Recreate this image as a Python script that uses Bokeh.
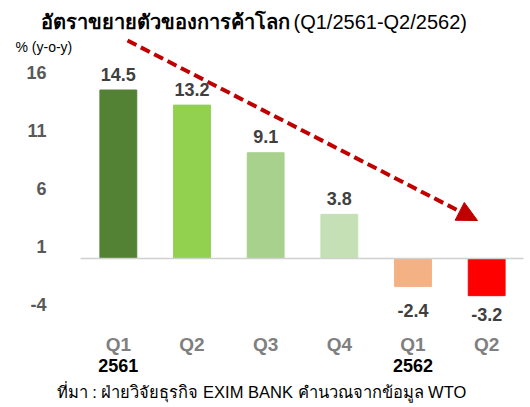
from bokeh.plotting import figure
from bokeh.models import (FixedTicker, LinearAxis, Range1d, Label, Arrow,
                          NormalHead, ColumnDataSource)
from bokeh.core.properties import value
from bokeh.embed import file_html
from bokeh.resources import INLINE

# ---- data ----
quarters = ["Q1", "Q2", "Q3", "Q4", "Q1", "Q2"]
year_labels = {0: "2561", 4: "2562"}
growth = [14.5, 13.2, 9.1, 3.8, -2.4, -3.2]
bar_colors = ["#548235", "#92D050", "#A9D18E", "#C5E0B4", "#F4B183", "#FF0000"]
y_ticks = [-4, 1, 6, 11, 16]
title_th = "อัตราขยายตัวของการค้าโลก"
title_en = "(Q1/2561-Q2/2562)"
unit_label = "% (y-o-y)"
source_note = "ที่มา : ฝ่ายวิจัยธุรกิจ EXIM BANK คำนวณจากข้อมูล WTO"

FONT = "Liberation Sans"

# ---- geometry (frame covers whole canvas; bars area from px 81 to 523) ----
W, H = 530, 407
BAR_L, BAR_R, ZERO_PY, KY = 81, 523, 258, 11.62
n = len(growth)
kx = (BAR_R - BAR_L) / n
X0 = -0.5 - BAR_L / kx
X1 = n - 0.5 + (W - BAR_R) / kx
Y1 = ZERO_PY / KY
Y0 = -(H - ZERO_PY) / KY


def dx(px):
    return X0 + px / kx


def dy(py):
    return Y1 - py / KY


xs = list(range(n))
offs = [-16 if v >= 0 else (24 if v > -3 else 19) for v in growth]
src = ColumnDataSource(dict(x=xs, top=growth, color=bar_colors,
                            lbl=[f"{v:.1f}" for v in growth], off=offs))

p = figure(width=W, height=H, output_backend="svg", toolbar_location=None,
           x_range=Range1d(X0, X1), y_range=Range1d(Y0, Y1),
           x_axis_location=None, y_axis_location=None,
           min_border=0, outline_line_color=None)
p.xgrid.visible = False
p.ygrid.visible = False
p.background_fill_color = "white"
p.border_fill_color = "white"

p.vbar(x="x", top="top", width=0.5, color="color", source=src)
# baseline at zero across the bar area
p.segment(x0=[xs[0] - 0.5 - 1 / kx], x1=[xs[-1] + 0.5], y0=[0], y1=[0],
          line_color="#D0D0D0", line_width=1.5)

p.text(x="x", y="top", text="lbl", y_offset="off", source=src,
       text_align="center", text_baseline="middle",
       text_font=value(FONT), text_font_size="18px", text_font_style="bold",
       text_color="#404040")

common = dict(axis_line_color=None, major_tick_line_color=None,
              minor_tick_line_color=None, major_label_text_font=FONT,
              major_label_text_font_style="bold")

# y axis
ya = LinearAxis(ticker=FixedTicker(ticks=y_ticks), fixed_location=dx(BAR_L - 1),
                major_label_overrides={t: str(t) for t in y_ticks},
                major_label_standoff=28, major_label_text_font_size="18px",
                major_label_text_color="#595959", **common)
p.add_layout(ya, "left")

# x axis: quarters
xa = LinearAxis(ticker=FixedTicker(ticks=xs),
                major_label_overrides={i: q for i, q in zip(xs, quarters)},
                fixed_location=dy(322), major_label_standoff=5,
                major_label_text_font_size="19px",
                major_label_text_color="#7F7F7F", **common)
p.add_layout(xa, "below")

# x axis: years
xa2 = LinearAxis(ticker=FixedTicker(ticks=list(year_labels.keys())),
                 major_label_overrides=year_labels,
                 fixed_location=dy(353), major_label_standoff=-1,
                 major_label_text_font_size="18px",
                 major_label_text_color="#000000", **common)
p.add_layout(xa2, "below")

# texts
p.add_layout(Label(x=dx(289), y=dy(21), text=title_th, text_align="right",
                   text_baseline="middle", text_font=FONT, text_font_size="20px",
                   text_font_style="bold", text_color="#000000"))
p.add_layout(Label(x=dx(293), y=dy(21), text=title_en, text_align="left",
                   text_baseline="middle", text_font=FONT, text_font_size="20px",
                   text_font_style="normal", text_color="#000000"))
p.add_layout(Label(x=dx(15), y=dy(46), text=unit_label, text_align="left",
                   text_baseline="middle", text_font=FONT, text_font_size="14px",
                   text_color="#000000"))
p.add_layout(Label(x=dx(261), y=dy(391), text=source_note, text_align="center",
                   text_baseline="middle", text_font=FONT, text_font_size="16.5px",
                   text_color="#000000"))

# trend arrow
p.add_layout(Arrow(x_start=dx(127), y_start=dy(40), x_end=dx(477), y_end=dy(220),
                   line_color="#C00000", line_width=4, line_dash="10 5",
                   end=NormalHead(size=20, fill_color="#C00000", line_color="#C00000")))

open("out.html", "w").write(file_html(p, INLINE))
